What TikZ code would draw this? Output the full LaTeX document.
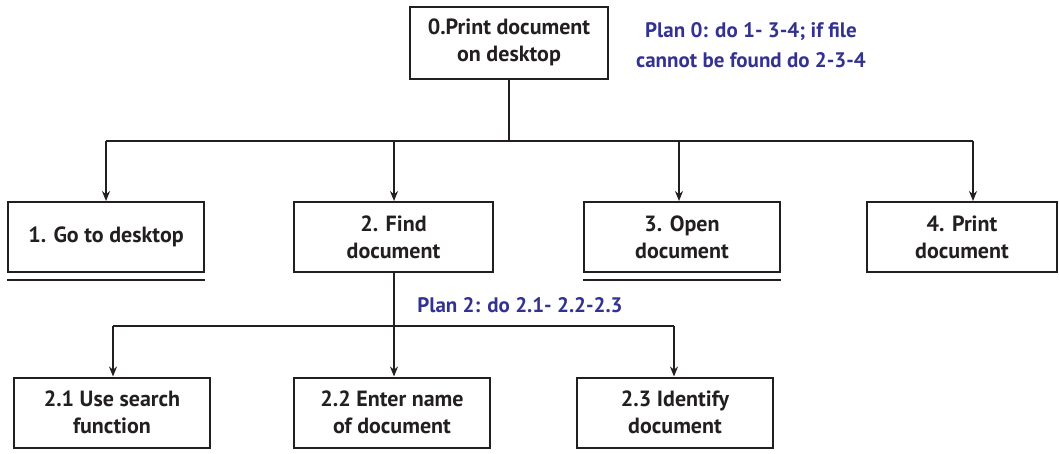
\documentclass[tikz,border=0pt]{standalone}
\usepackage{fontspec}
\setmainfont{PT Sans}
\usetikzlibrary{arrows.meta}
\definecolor{ink}{RGB}{35,31,32}
\definecolor{plan}{RGB}{52,50,145}
\begin{document}
\begin{tikzpicture}[x=1pt,y=-1pt,
  box/.style={draw=ink,line width=2pt,minimum width=196pt,minimum height=70pt,
    inner sep=0pt,align=center,text=ink,
    font=\fontsize{22}{27}\selectfont\bfseries},
  conn/.style={draw=ink,line width=1.4pt},
  arr/.style={conn,-{Stealth[length=10pt,width=8pt]}},
  uline/.style={draw=ink,line width=2pt},
  plantext/.style={text=plan,align=center,font=\fontsize{21}{30}\selectfont\bfseries}]
\useasboundingbox (0,0) rectangle (1059,453);
% nodes
\node[box,minimum width=198pt,minimum height=72pt] (B0) at (509,42.5) {0.Print document\\on desktop};
\node[plantext] (P0) at (751,45) {Plan 0: do 1- 3-4; if file\\cannot be found do 2-3-4};
\node[box] (B1) at (106,237) {1. Go to desktop};
\node[box,minimum width=199pt] (B2) at (393.5,237) {2. Find\\document};
\node[box] (B3) at (682,237) {3. Open\\document};
\node[box,minimum width=190pt] (B4) at (962,237) {4. Print\\document};
\node[plantext] (P2) at (520,305) {Plan 2: do 2.1- 2.2-2.3};
\node[box] (B21) at (112,412.5) {2.1 Use search\\function};
\node[box] (B22) at (392,412.5) {2.2 Enter name\\of document};
\node[box] (B23) at (675,412.5) {2.3 Identify\\document};
% bus coordinates
\coordinate (t1) at (106,141);
\coordinate (t2) at (394,141);
\coordinate (t3) at (679,141);
\coordinate (t4) at (973,141);
\coordinate (s1) at (113,326);
\coordinate (s2) at (394,326);
\coordinate (s3) at (674,326);
% connectors level 1
\draw[conn] (B0.south) -- (B0.south |- t1);
\draw[conn] (t1) -- (t4);
\draw[arr] (t1) -- (t1 |- B1.north);
\draw[arr] (t2) -- (t2 |- B2.north);
\draw[arr] (t3) -- (t3 |- B3.north);
\draw[arr] (t4) -- (t4 |- B4.north);
% connectors level 2
\draw[conn] (B2.south -| s2) -- (s2);
\draw[conn] (s1) -- (s3);
\draw[arr] (s1) -- (s1 |- B21.north);
\draw[arr] (s2) -- (s2 |- B22.north);
\draw[arr] (s3) -- (s3 |- B23.north);
% underlines
\draw[uline] ([yshift=-7pt]B1.south west) -- ([yshift=-7pt]B1.south east);
\draw[uline] ([yshift=-7pt]B3.south west) -- ([yshift=-7pt]B3.south east);
\end{tikzpicture}
\end{document}
